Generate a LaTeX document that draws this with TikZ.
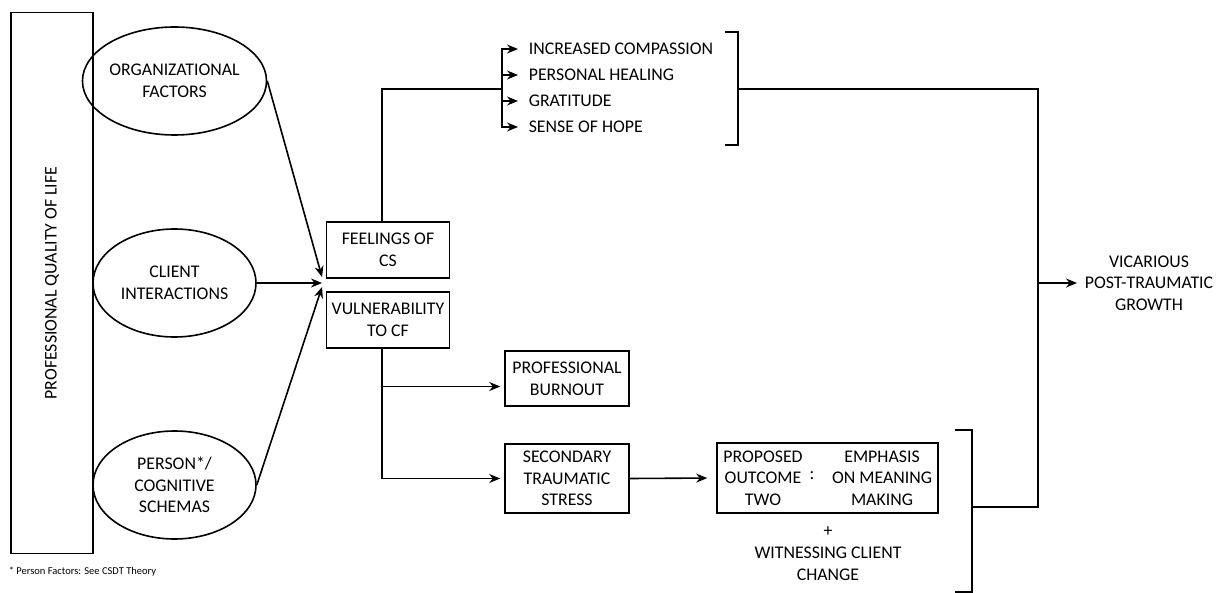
\documentclass[tikz,border=0pt]{standalone}
\usepackage{fontspec}
\setmainfont{Carlito}
\usepackage{tikz}
\usetikzlibrary{arrows.meta,positioning,shapes.geometric}

\begin{document}
\begin{tikzpicture}[
  x=1pt, y=-1pt,
  font=\fontsize{17.8pt}{21.6pt}\selectfont,
  line width=1.6pt,
  oval/.style={draw, ellipse, minimum width=163pt, minimum height=108pt, inner sep=0pt, align=center},
  box/.style={draw, minimum width=123pt, minimum height=56pt, inner sep=2pt, align=center},
  item/.style={anchor=west, inner xsep=10pt, inner ysep=1pt},
  arrow/.style={-{Stealth[length=11pt,width=9pt]}}
]
\useasboundingbox (0,0) rectangle (1217,593);

\node[draw, rotate=90, minimum width=541pt, minimum height=82pt] (qol) at (52,283) {PROFESSIONAL QUALITY OF LIFE};
\node[oval] (org) at (174.5,81) {ORGANIZATIONAL\\FACTORS};
\node[oval] (client) at (174.5,283) {CLIENT\\INTERACTIONS};
\node[oval] (person) at (174.5,485) {PERSON*/\\COGNITIVE\\SCHEMAS};
\node[anchor=west, inner sep=0pt, font=\fontsize{10.5pt}{12pt}\selectfont] (note) at (8,572) {* Person Factors: See CSDT Theory};

\coordinate (hub) at (322,283);
\node[box] (cs) at (388,250) {FEELINGS OF\\CS};
\node[box] (vul) at (388,320) {VULNERABILITY\\TO CF};

\coordinate (fork) at (502,89);
\node[item] (comp) at (518,49) {INCREASED COMPASSION};
\node[item] (heal) at (518,75) {PERSONAL HEALING};
\node[item] (grat) at (518,101) {GRATITUDE};
\node[item] (hope) at (518,127) {SENSE OF HOPE};

\node[box, minimum width=124pt, minimum height=55pt] (burn) at (567,378.5) {PROFESSIONAL\\BURNOUT};
\node[box, minimum width=124pt, minimum height=69pt] (sts) at (567,478.5) {SECONDARY\\TRAUMATIC\\STRESS};
\node[box, minimum width=221pt, minimum height=70pt] (out) at (827.5,478) {};
\node[align=center] (outL) at (763,478) {PROPOSED\\OUTCOME\\TWO};
\node (outC) at (812,476) {:};
\node[align=center] (outR) at (882,478) {EMPHASIS\\ON MEANING\\MAKING};
\node (plus) at (828,532) {+};
\node[align=center] (wit) at (828,564) {WITNESSING CLIENT\\CHANGE};

\node[align=center, inner xsep=7pt] (vpg) at (1149,283) {VICARIOUS\\POST-TRAUMATIC\\GROWTH};

% brackets
\coordinate (brA) at (738,89);
\coordinate (brB) at (972,507);
\coordinate (join) at (1038,283);
\draw (725,32) -- (738,32) -- (738,145) -- (725,145);
\draw (955,430) -- (972,430) -- (972,592) -- (955,592);

\draw[arrow] (org.east) -- ([yshift=6pt]hub);
\draw[arrow] (client.east) -- (hub);
\draw[arrow] (person.east) -- ([yshift=-4pt]hub);

\draw ([xshift=-6pt]cs.north) |- (fork);
\draw[arrow] (fork) |- (comp.west);
\draw[arrow] (fork) |- (heal.west);
\draw[arrow] (fork) |- (grat.west);
\draw[arrow] (fork) |- (hope.west);

\draw[arrow, shorten >=4pt] ([xshift=-6pt]vul.south) |- ([yshift=-8pt]burn.west);
\draw[arrow, shorten >=4pt] ([xshift=-6pt]vul.south) |- (sts.west);
\draw[arrow, shorten >=9pt] (sts.east) -- (out.west);

\draw (brA) -| (join) |- (brB);
\draw[arrow] (join) -- (vpg.west);
\end{tikzpicture}
\end{document}
